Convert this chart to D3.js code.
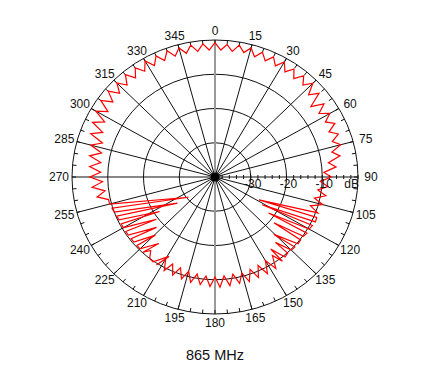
<!DOCTYPE html>
<html>
<head>
<meta charset="utf-8">
<script src="https://cdn.jsdelivr.net/npm/d3@7"></script>
<style>
  body { margin: 0; background: #fff; }
  text { font-family: "Liberation Sans", Arial, sans-serif; fill: #111; }
</style>
</head>
<body>
<div id="chart"></div>
<script>
// angle (deg) / gain (dB)
var angles = [0,2.5,5,7.5,10,12.5,15,17.5,20,22.5,25,27.5,30,32.5,35,37.5,40,42.5,45,
    47.5,50,52.5,55,57.5,60,62.5,65,67.5,70,72.5,75,77.5,80,82.5,85,87.5,90,
    92.5,95,97.5,100,102.5,105,107.5,110,118.5,112.5,115,121.5,117.5,120,125,122.5,
    125,129,127.5,130,135.5,132.5,135,138.5,137.5,140,143.5,142.5,145,147.5,150,152.5,155,
    157.5,160,162.5,165,167.5,170,172.5,175,177.5,180,182.5,185,187.5,190,192.5,195,
    197.5,200,202.5,205,207.5,210,212.5,209,215,217.5,220,222.5,219,225,227.5,224.5,230,
    232.5,228,235,237.5,233,240,242.5,237,245,247.5,234,250,252.5,231.5,255,257.5,
    260,262.5,265,267.5,270,272.5,275,277.5,280,282.5,285,287.5,290,292.5,295,297.5,
    300,302.5,305,307.5,310,312.5,315,317.5,320,322.5,325,327.5,330,332.5,335,337.5,
    340,342.5,345,347.5,350,352.5,355,357.5];
var gains = [-0.8,-2.9,-1.2,-3.0,-0.9,-2.8,-1.0,-3.2,-1.2,-3.3,-1.3,-3.4,-1.2,-3.6,-1.5,-3.8,-1.4,-3.6,-1.3,
    -4.5,-2.0,-6.2,-2.8,-5.5,-2.9,-5.2,-3.0,-5.5,-3.3,-5.6,-3.6,-6.5,-4.5,-8.0,-6.0,-9.5,-7.5,
    -10.5,-8.3,-11.0,-8.5,-11.5,-8.8,-12.0,-9.4,-26.0,-9.2,-9.0,-24.5,-9.3,-9.6,-21.7,-9.5,
    -9.8,-18.8,-9.8,-9.7,-16.5,-9.7,-9.8,-14.5,-9.9,-9.5,-13.8,-9.0,-12.0,-8.3,-11.8,-8.2,-11.5,
    -8.2,-11.3,-8.0,-11.0,-8.2,-11.2,-8.0,-11.0,-7.8,-10.8,-8.0,-11.0,-8.3,-11.2,-8.5,-11.5,
    -8.8,-11.8,-9.0,-12.0,-9.2,-12.5,-9.5,-13.5,-9.8,-10.0,-12.0,-10.2,-15.0,-10.3,-10.4,-16.2,-10.4,
    -10.4,-18.0,-10.4,-10.4,-19.5,-10.4,-10.4,-21.5,-10.4,-10.2,-27.0,-10.0,-9.8,-30.5,-9.5,-9.5,
    -6.5,-9.0,-5.5,-8.5,-5.0,-8.0,-4.8,-7.8,-4.4,-7.5,-4.0,-7.0,-3.0,-6.0,-2.2,-5.2,
    -1.5,-4.5,-1.0,-4.0,-1.0,-3.8,-1.2,-3.6,-1.0,-3.5,-1.1,-3.4,-0.9,-3.3,-1.0,-3.2,
    -0.8,-3.0,-1.0,-3.0,-0.9,-3.0,-1.0,-2.9];

var angleTicks = d3.range(0, 360, 15);
var ringLevels = [-30, -20, -10];
var ringLabels = ["-30", "-20", "-10", "dB"];
var title = "865 MHz";

var width = 429, height = 372;
var cx = 215, cy = 177, rx = 143, ry = 137;

var r = d3.scaleLinear().domain([-40, 0]).range([0, 1]);
var a = d3.scaleLinear().domain([0, 360]).range([0, 2 * Math.PI]);

function px(deg, f) { return cx + rx * f * Math.sin(a(deg)); }
function py(deg, f) { return cy - ry * f * Math.cos(a(deg)); }

var svg = d3.select("#chart").append("svg")
    .attr("width", width)
    .attr("height", height);

// rings
svg.selectAll(".ring")
    .data(ringLevels)
    .enter().append("ellipse")
    .attr("cx", cx).attr("cy", cy)
    .attr("rx", function(d) { return rx * r(d); })
    .attr("ry", function(d) { return ry * r(d); })
    .attr("fill", "none")
    .attr("stroke", "#111")
    .attr("stroke-width", 1);

// spokes
svg.selectAll(".spoke")
    .data(angleTicks.filter(function(d) { return d % 90 != 0; }))
    .enter().append("line")
    .attr("x1", cx).attr("y1", cy)
    .attr("x2", function(d) { return px(d, 1); })
    .attr("y2", function(d) { return py(d, 1); })
    .attr("stroke", "#111")
    .attr("stroke-width", 1);

// 90-270 axis
svg.append("line")
    .attr("x1", px(270, 1)).attr("y1", cy)
    .attr("x2", px(90, 1)).attr("y2", cy)
    .attr("stroke", "#111").attr("stroke-width", 1);

// 0-180 axis, grey
svg.append("line")
    .attr("x1", cx).attr("y1", py(0, 1))
    .attr("x2", cx).attr("y2", py(180, 1))
    .attr("stroke", "#9a9a9a").attr("stroke-width", 2);

// outer circle
svg.append("ellipse")
    .attr("cx", cx).attr("cy", cy)
    .attr("rx", rx).attr("ry", ry)
    .attr("fill", "none")
    .attr("stroke", "#111")
    .attr("stroke-width", 1);

// minor ticks on outer circle, every 5 deg
svg.selectAll(".otick")
    .data(d3.range(0, 360, 5))
    .enter().append("line")
    .attr("x1", function(d) { return px(d, 1); })
    .attr("y1", function(d) { return py(d, 1); })
    .attr("x2", function(d) { return px(d, 1) - 4 * Math.sin(a(d)); })
    .attr("y2", function(d) { return py(d, 1) + 4 * Math.cos(a(d)); })
    .attr("stroke", "#111")
    .attr("stroke-width", 1);

// ticks along radial axis (90 deg)
svg.selectAll(".rtick")
    .data(r.ticks(20))
    .enter().append("line")
    .attr("x1", function(d) { return px(90, r(d)); })
    .attr("x2", function(d) { return px(90, r(d)); })
    .attr("y1", cy - 2)
    .attr("y2", cy + 2)
    .attr("stroke", "#111")
    .attr("stroke-width", 1);

// pattern
var line = d3.line()
    .x(function(d, i) { return px(angles[i], r(gains[i])); })
    .y(function(d, i) { return py(angles[i], r(gains[i])); })
    .curve(d3.curveLinearClosed);

svg.append("path")
    .attr("d", line(gains))
    .attr("fill", "none")
    .attr("stroke", "#ff0000")
    .attr("stroke-width", 1.2)
    .attr("stroke-linejoin", "miter");

// centre dot
svg.append("circle")
    .attr("cx", cx).attr("cy", cy).attr("r", 4.5)
    .attr("fill", "#000");

// angle labels
svg.selectAll(".alab")
    .data(angleTicks)
    .enter().append("text")
    .attr("x", function(d) { return cx + (rx + 13) * Math.sin(a(d)); })
    .attr("y", function(d) { return cy - (ry + 9) * Math.cos(a(d)); })
    .attr("text-anchor", "middle")
    .attr("dominant-baseline", "central")
    .style("font-size", "12px")
    .text(function(d) { return d; });

// radial labels
svg.selectAll(".rlab")
    .data(ringLabels)
    .enter().append("text")
    .attr("x", function(d, i) { return i < 3 ? px(90, r(ringLevels[i])) + 2 : px(90, 1) + 1; })
    .attr("y", cy + 11)
    .attr("text-anchor", function(d, i) { return i < 3 ? "middle" : "end"; })
    .style("font-size", "12px")
    .text(function(d) { return d; });

// title
svg.append("text")
    .attr("x", cx)
    .attr("y", 360)
    .attr("text-anchor", "middle")
    .style("font-size", "14.5px")
    .text(title);
</script>
</body>
</html>
